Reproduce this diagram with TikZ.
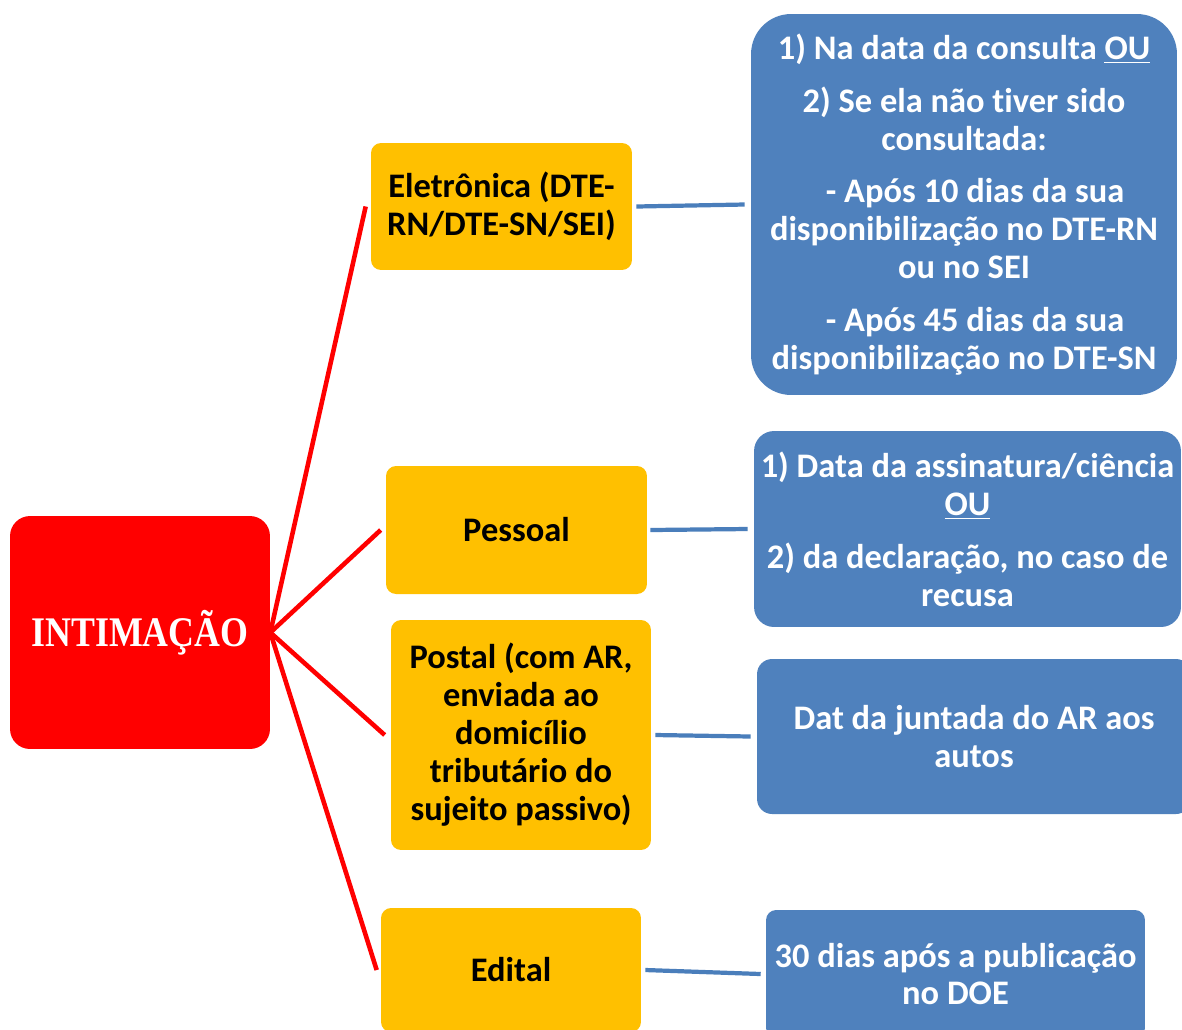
\documentclass[tikz,border=0pt]{standalone}
\usepackage{fontspec}
\setmainfont{Carlito}[Ligatures=NoCommon]
\newfontfamily\titlefont{Liberation Serif}
\definecolor{rbox}{HTML}{FF0000}
\definecolor{obox}{HTML}{FFC000}
\definecolor{bbox}{HTML}{4F81BD}
\definecolor{bline}{HTML}{4A7EBB}
\tikzset{
  txt/.style={font=\fontsize{19.6}{21.6}\selectfont\bfseries, align=center, inner sep=0pt},
  orangebox/.style={txt, fill=obox, rounded corners=0.2cm, text=black},
  bluebox/.style={txt, fill=bbox, text=white},
  redline/.style={draw=rbox, line width=2.6pt},
  blueline/.style={draw=bline, line width=2.4pt},
}
\begin{document}
\begin{tikzpicture}[x=0.02cm,y=-0.02cm]
\clip (0,0) rectangle (1182,1029);
\fill[white] (0,0) rectangle (1182,1029);
% central node
\node[fill=rbox, rounded corners=0.4cm, minimum width=5.2cm, minimum height=4.66cm, text=white, inner sep=0pt,
  font=\titlefont\fontsize{24}{28}\selectfont\bfseries] (intim) at (140,632.5) {\scalebox{0.85}[1]{INTIMAÇÃO}};
% orange nodes
\node[orangebox, minimum width=5.22cm, minimum height=2.54cm] (elet) at (501.5,206.5) {Eletrônica (DTE-\\RN/DTE-SN/SEI)};
\node[orangebox, minimum width=5.22cm, minimum height=2.56cm] (pess) at (516.5,530) {Pessoal};
\node[orangebox, minimum width=5.2cm, minimum height=4.6cm] (post) at (521,735) {Postal (com AR,\\enviada ao\\domicílio\\tributário do\\sujeito passivo)};
\node[orangebox, minimum width=5.2cm, minimum height=2.48cm] (edit) at (511,970) {Edital};
% blue nodes
\node[bluebox, rounded corners=0.8cm, minimum width=8.52cm, minimum height=7.62cm] (b1) at (964,204.5)
  {1) Na data da consulta \underline{OU}\\[8.5pt]
   2) Se ela não tiver sido\\consultada:\\[8.5pt]
   \hspace*{0.44cm}- Após 10 dias da sua\\disponibilização no DTE-RN\\ou no SEI\\[8.5pt]
   \hspace*{0.44cm}- Após 45 dias da sua\\disponibilização no DTE-SN};
\node[bluebox, rounded corners=0.4cm, minimum width=8.54cm, minimum height=3.92cm] (b2) at (967.5,529)
  {1) Data da assinatura/ciência\\\underline{OU}\\[8.5pt]
   2) da declaração, no caso de\\recusa};
\node[bluebox, rounded corners=0.3cm, minimum width=8.68cm, minimum height=3.1cm] (b3) at (974,736.5)
  {Dat da juntada do AR aos\\autos};
\node[bluebox, rounded corners=0.2cm, minimum width=7.58cm, minimum height=2.56cm] (b4) at (955.5,974)
  {30 dias após a publicação\\no DOE};
% red connectors
\draw[redline] (intim.east) -- ([xshift=-0.1cm]elet.west);
\draw[redline] (intim.east) -- ([xshift=-0.1cm]pess.west);
\draw[redline] (intim.east) -- ([xshift=-0.12cm]post.west);
\draw[redline] (intim.east) -- ([xshift=-0.08cm]edit.west);
% blue connectors
\draw[blueline] ([xshift=0.08cm]elet.east) -- ([xshift=-0.12cm]b1.west);
\draw[blueline] ([xshift=0.06cm]pess.east) -- ([xshift=-0.12cm]b2.west);
\draw[blueline] ([xshift=0.08cm]post.east) -- ([xshift=-0.12cm]b3.west);
\draw[blueline] ([xshift=0.08cm]edit.east) -- ([xshift=-0.1cm]b4.west);
\end{tikzpicture}
\end{document}
